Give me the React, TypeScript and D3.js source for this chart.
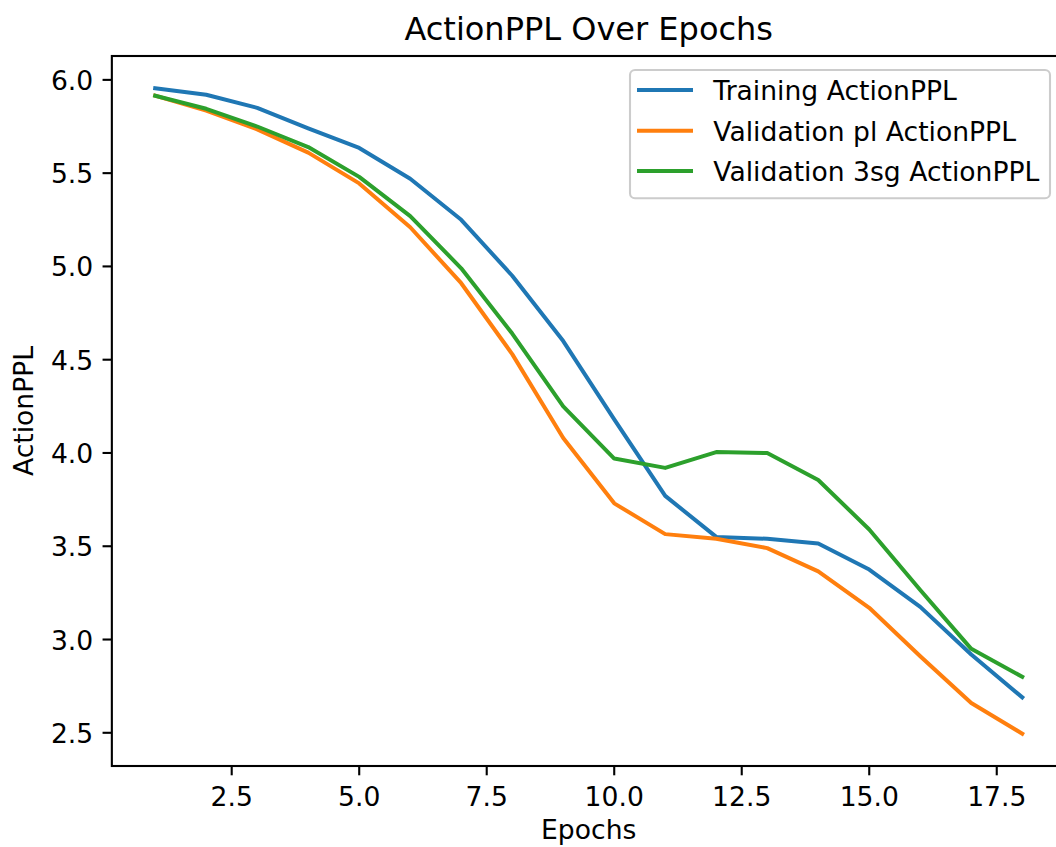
import React from "react";
import * as d3 from "d3";

const epochs = [1, 2, 3, 4, 5, 6, 7, 8, 9, 10, 11, 12, 13, 14, 15, 16, 17, 18];
const trainingPPL = [5.955, 5.92, 5.85, 5.74, 5.635, 5.47, 5.25, 4.95, 4.6, 4.18, 3.77, 3.55, 3.54, 3.515, 3.375, 3.175, 2.92, 2.69];
const validationPlPPL = [5.915, 5.835, 5.735, 5.61, 5.445, 5.21, 4.91, 4.53, 4.08, 3.73, 3.565, 3.54, 3.49, 3.365, 3.17, 2.91, 2.66, 2.495];
const validation3sgPPL = [5.915, 5.845, 5.75, 5.64, 5.48, 5.27, 4.99, 4.64, 4.25, 3.97, 3.92, 4.005, 4.0, 3.855, 3.59, 3.265, 2.95, 2.8];
const seriesNames = ["Training ActionPPL", "Validation pl ActionPPL", "Validation 3sg ActionPPL"];
const seriesColors = ["#1f77b4", "#ff7f0e", "#2ca02c"];
const xTicks = [2.5, 5.0, 7.5, 10.0, 12.5, 15.0, 17.5];
const yTicks = [2.5, 3.0, 3.5, 4.0, 4.5, 5.0, 5.5, 6.0];
const titleText = "ActionPPL Over Epochs";
const xLabelText = "Epochs";
const yLabelText = "ActionPPL";

const W = 1056;
const H = 847;
const L = 111.85;
const R = 1065.6;
const T = 56;
const B = 766;
const FONT = "DejaVu Sans";
const FS = 26.6;

function pad([a, b]: [number, number]): [number, number] {
  const m = (b - a) * 0.05;
  return [a - m, b + m];
}

export default function App() {
  const allSeries = [trainingPPL, validationPlPPL, validation3sgPPL];
  const xExt = d3.extent(epochs) as [number, number];
  const yExt = d3.extent(allSeries.flat()) as [number, number];
  const x = d3.scaleLinear().domain(pad(xExt)).range([L, R]);
  const y = d3.scaleLinear().domain(pad(yExt)).range([B, T]);
  const line = d3
    .line<number>()
    .x((_, i) => x(epochs[i]))
    .y((d) => y(d));
  const tickLen = 9.3;
  const tickPad = 9.3;
  const cx = (L + R) / 2;
  const cy = (T + B) / 2;

  const legX = 630;
  const legY = 70;
  const legW = 420;
  const legH = 128.3;
  const rowY = [90, 130.7, 171];

  return (
    <svg
      width={W}
      height={H}
      style={{ position: "absolute", left: 0, top: 0, background: "#fff" }}
      fontFamily={FONT}
    >
      <rect x={0} y={0} width={W} height={H} fill="#fff" />
      <defs>
        <clipPath id="plotClip">
          <rect x={L} y={T} width={R - L} height={B - T} />
        </clipPath>
      </defs>
      <g clipPath="url(#plotClip)">
        {allSeries.map((s, i) => (
          <path
            key={i}
            d={line(s) || ""}
            fill="none"
            stroke={seriesColors[i]}
            strokeWidth={4}
            strokeLinejoin="round"
            strokeLinecap="square"
          />
        ))}
      </g>
      {/* spines */}
      <rect x={L} y={T} width={R - L} height={B - T} fill="none" stroke="#000" strokeWidth={2.1} />
      {/* x ticks */}
      {xTicks.map((t) => (
        <g key={"x" + t}>
          <line x1={x(t)} x2={x(t)} y1={B} y2={B + tickLen} stroke="#000" strokeWidth={2.1} />
          <text x={x(t)} y={806} textAnchor="middle" fontSize={FS} fill="#000">
            {d3.format(".1f")(t)}
          </text>
        </g>
      ))}
      {/* y ticks */}
      {yTicks.map((t) => (
        <g key={"y" + t}>
          <line x1={L - tickLen} x2={L} y1={y(t)} y2={y(t)} stroke="#000" strokeWidth={2.1} />
          <text x={L - tickLen - tickPad} y={y(t) + 10} textAnchor="end" fontSize={FS} fill="#000">
            {d3.format(".1f")(t)}
          </text>
        </g>
      ))}
      <text x={cx} y={839} textAnchor="middle" fontSize={FS} fill="#000">
        {xLabelText}
      </text>
      <text
        transform={`translate(33.3, ${cy}) rotate(-90)`}
        textAnchor="middle"
        fontSize={FS}
        fill="#000"
      >
        {yLabelText}
      </text>
      <text x={cx} y={39.5} textAnchor="middle" fontSize={32} fill="#000">
        {titleText}
      </text>
      {/* legend */}
      <rect
        x={legX}
        y={legY}
        width={legW}
        height={legH}
        rx={5}
        ry={5}
        fill="#fff"
        fillOpacity={0.8}
        stroke="#cccccc"
        strokeWidth={2.1}
      />
      {seriesNames.map((n, i) => (
        <g key={n}>
          <line x1={637} x2={693} y1={rowY[i]} y2={rowY[i]} stroke={seriesColors[i]} strokeWidth={4} />
          <text x={713.3} y={rowY[i] + 10} fontSize={FS} fill="#000">
            {n}
          </text>
        </g>
      ))}
    </svg>
  );
}
